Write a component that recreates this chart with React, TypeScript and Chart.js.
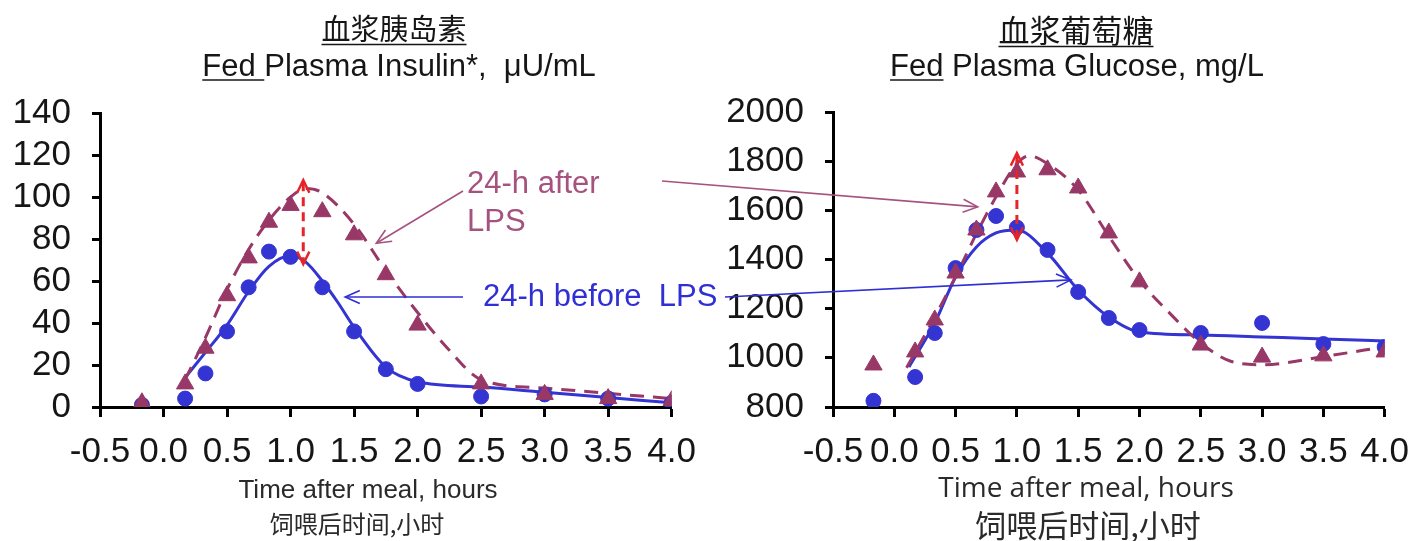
import { useEffect, useRef } from "react";
import { Chart, registerables } from "chart.js";

Chart.register(...registerables);

// Sampling times, hours after the meal
const sampleHours = [-0.17, 0.17, 0.33, 0.5, 0.67, 0.83, 1.0, 1.25, 1.5, 1.75, 2.0, 2.5, 3.0, 3.5, 4.0];

// Fed plasma insulin, µU/mL
const insulinBefore = [1, 4, 16, 36, 57, 74, 71.5, 57, 36, 18, 11, 5, 6, 4, 2];
const insulinAfter = [2, 11, 28, 53, 71, 88, 96, 93, 82, 63, 39, 11, 6, 4, 3];

// Fitted insulin curves
const insulinBeforeFitHours = [0.17, 0.33, 0.5, 0.67, 0.83, 1.0, 1.12, 1.25, 1.37, 1.5, 1.75, 2.0, 2.5, 3.0, 3.5, 4.0];
const insulinBeforeFit = [14, 26, 39, 55, 67, 72, 69, 60, 50, 38, 19, 12, 9.5, 7, 4.5, 2];
const insulinAfterFitHours = [0.17, 0.33, 0.5, 0.67, 0.83, 1.0, 1.12, 1.25, 1.5, 1.75, 2.0, 2.25, 2.5, 3.0, 3.5, 4.0];
const insulinAfterFit = [13, 33, 56, 75, 89, 100, 104, 102, 87, 65, 45, 27, 13, 9, 6.5, 4];

// Fed plasma glucose, mg/L
const glucoseBefore = [825, 922, 1101, 1365, 1520, 1577, 1530, 1439, 1268, 1162, 1113, 1101, 1142, 1056, 1044];
const glucoseAfter = [971, 1024, 1154, 1345, 1520, 1675, 1756, 1765, 1691, 1508, 1309, 1052, 1003, 1008, 1024];

// Fitted glucose curves
const glucoseBeforeFitHours = [0.12, 0.33, 0.5, 0.67, 0.83, 1.0, 1.25, 1.5, 1.75, 2.0, 2.5, 3.0, 3.5, 4.0];
const glucoseBeforeFit = [963, 1142, 1329, 1451, 1508, 1520, 1426, 1276, 1166, 1105, 1093, 1085, 1077, 1068];
const glucoseAfterFitHours = [0.1, 0.33, 0.5, 0.67, 0.83, 1.0, 1.1, 1.25, 1.5, 1.75, 2.0, 2.25, 2.5, 2.75, 3.0, 3.5, 4.0];
const glucoseAfterFit = [960, 1166, 1330, 1505, 1655, 1790, 1822, 1790, 1683, 1495, 1315, 1180, 1060, 985, 972, 1005, 1045];

// Axis ranges: [min, max, step]
const hourAxis = [-0.5, 4.0, 0.5];
const insulinAxis = [0, 140, 20];
const glucoseAxis = [800, 2000, 200];

// Post-LPS rise at the peak: [hour, lower value, upper value]
const insulinGap = [1.1, 68, 108];
const glucoseGap = [1.0, 1480, 1833];

// Callout arrow tips: [hour, value]
const afterTipInsulin = [1.675, 78];
const afterTipGlucose = [0.68, 1614];
const beforeTipInsulin = [1.43, 52.4];
const beforeTipGlucose = [1.44, 1317];

const BLUE = "#3434d2";
const PURPLE = "#983866";
const RED = "#e4262a";
const INK = "#161616";
const SANS = "'Liberation Sans', Arial, sans-serif";
const CJK = "'Noto Sans CJK SC', sans-serif";

const pairs = (xs: number[], ys: number[]) => xs.map((x, i) => ({ x, y: ys[i] }));

function arrowHead(ctx: CanvasRenderingContext2D, tx: number, ty: number, fx: number, fy: number, len: number, spread: number) {
  const a = Math.atan2(ty - fy, tx - fx);
  ctx.beginPath();
  ctx.moveTo(tx - len * Math.cos(a - spread), ty - len * Math.sin(a - spread));
  ctx.lineTo(tx, ty);
  ctx.lineTo(tx - len * Math.cos(a + spread), ty - len * Math.sin(a + spread));
  ctx.stroke();
}

type Decor = {
  zh: string; zhX: number; zhY: number; zhSize: number;
  en: string; enUnder: string; enX: number; enY: number;
  axisEn: string; axisFont: string; axisX: number; axisY: number;
  axisZh: string; axisZhX: number; axisZhY: number; axisZhSize: number;
  gap: number[];
};

function decorPlugin(d: Decor) {
  return {
    id: "decor",
    afterDatasetsDraw(chart: any) {
      const ctx: CanvasRenderingContext2D = chart.ctx;
      const { x, y } = chart.scales;
      ctx.save();
      // peak rise double arrow
      const gx = x.getPixelForValue(d.gap[0]);
      const gLow = y.getPixelForValue(d.gap[1]);
      const gHigh = y.getPixelForValue(d.gap[2]);
      ctx.strokeStyle = RED;
      ctx.lineWidth = 3;
      ctx.setLineDash([9, 6]);
      ctx.beginPath();
      ctx.moveTo(gx, gHigh + 2);
      ctx.lineTo(gx, gLow - 2);
      ctx.stroke();
      ctx.setLineDash([]);
      ctx.lineWidth = 2.5;
      arrowHead(ctx, gx, gHigh, gx, gLow, 14, 0.45);
      arrowHead(ctx, gx, gLow, gx, gHigh, 14, 0.45);
      ctx.restore();
    },
    afterDraw(chart: any) {
      const ctx: CanvasRenderingContext2D = chart.ctx;
      ctx.save();
      ctx.fillStyle = INK;
      ctx.strokeStyle = INK;
      ctx.lineWidth = 1.6;
      // Chinese title, underlined
      ctx.font = `${d.zhSize}px ${CJK}`;
      ctx.textAlign = "center";
      ctx.textBaseline = "middle";
      ctx.fillText(d.zh, d.zhX, d.zhY);
      const zw = ctx.measureText(d.zh).width;
      ctx.beginPath();
      ctx.moveTo(d.zhX - zw / 2, d.zhY + d.zhSize * 0.5 + 1);
      ctx.lineTo(d.zhX + zw / 2, d.zhY + d.zhSize * 0.5 + 1);
      ctx.stroke();
      // English title with underlined first word
      ctx.font = `31px ${SANS}`;
      ctx.textAlign = "left";
      ctx.textBaseline = "alphabetic";
      const ew = ctx.measureText(d.en).width;
      const ex = d.enX - ew / 2;
      ctx.fillText(d.en, ex, d.enY);
      const uw = ctx.measureText(d.enUnder).width;
      ctx.beginPath();
      ctx.moveTo(ex, d.enY + 4);
      ctx.lineTo(ex + uw, d.enY + 4);
      ctx.stroke();
      // x axis titles
      ctx.fillStyle = "#2a2a2a";
      ctx.textAlign = "center";
      ctx.textBaseline = "middle";
      ctx.font = d.axisFont;
      ctx.fillText(d.axisEn, d.axisX, d.axisY);
      ctx.font = `${d.axisZhSize}px ${CJK}`;
      ctx.fillText(d.axisZh, d.axisZhX, d.axisZhY);
      ctx.restore();
    },
  };
}

function makeChart(
  canvas: HTMLCanvasElement,
  before: { x: number; y: number }[],
  after: { x: number; y: number }[],
  beforeFit: { x: number; y: number }[],
  afterFit: { x: number; y: number }[],
  yAxis: number[],
  yWidth: number,
  padTop: number,
  padRight: number,
  labelPad: number,
  decor: Decor
) {
  const tickFont = { family: SANS, size: 35 };
  return new Chart(canvas, {
    type: "line",
    data: {
      datasets: [
        {
          label: "24-h after LPS",
          data: after,
          showLine: false,
          pointStyle: "triangle",
          pointRadius: 10,
          pointBackgroundColor: PURPLE,
          pointBorderColor: PURPLE,
          pointBorderWidth: 1,
        },
        {
          label: "24-h before LPS",
          data: before,
          showLine: false,
          pointStyle: "circle",
          pointRadius: 7.5,
          pointBackgroundColor: BLUE,
          pointBorderColor: BLUE,
          pointBorderWidth: 1,
        },
        {
          label: "after fit",
          data: afterFit,
          borderColor: PURPLE,
          borderWidth: 3,
          borderDash: [14, 9],
          pointRadius: 0,
          cubicInterpolationMode: "monotone",
          fill: false,
        },
        {
          label: "before fit",
          data: beforeFit,
          borderColor: BLUE,
          borderWidth: 3,
          pointRadius: 0,
          cubicInterpolationMode: "monotone",
          fill: false,
        },
      ],
    },
    options: {
      responsive: false,
      animation: false,
      layout: { padding: { top: padTop, right: padRight, left: 0, bottom: 0 } },
      plugins: { legend: { display: false }, tooltip: { enabled: false }, title: { display: false } },
      scales: {
        x: {
          type: "linear",
          min: hourAxis[0],
          max: hourAxis[1],
          afterFit: (s: any) => {
            s.height = 134;
          },
          ticks: {
            stepSize: hourAxis[2],
            autoSkip: false,
            maxRotation: 0,
            padding: labelPad,
            color: INK,
            font: tickFont,
            callback: (v: any) => Number(v).toFixed(1),
          },
          grid: { drawOnChartArea: false, tickLength: 10, tickWidth: 3, tickColor: "#000" },
          border: { color: "#000", width: 3 },
        },
        y: {
          min: yAxis[0],
          max: yAxis[1],
          afterFit: (s: any) => {
            s.width = yWidth;
          },
          ticks: {
            stepSize: yAxis[2],
            autoSkip: false,
            padding: 21,
            color: INK,
            font: tickFont,
            callback: (v: any) => String(v),
          },
          grid: { drawOnChartArea: false, tickLength: 8, tickWidth: 3, tickColor: "#000" },
          border: { color: "#000", width: 3 },
        },
      },
    },
    plugins: [decorPlugin(decor)],
  } as any);
}

export default function App() {
  const leftRef = useRef<HTMLCanvasElement>(null);
  const rightRef = useRef<HTMLCanvasElement>(null);
  const overRef = useRef<HTMLCanvasElement>(null);

  useEffect(() => {
    const left = makeChart(
      leftRef.current!,
      pairs(sampleHours, insulinBefore),
      pairs(sampleHours, insulinAfter),
      pairs(insulinBeforeFitHours, insulinBeforeFit),
      pairs(insulinAfterFitHours, insulinAfterFit),
      insulinAxis,
      100,
      113,
      38,
      14,
      {
        zh: "血浆胰岛素", zhX: 394, zhY: 29, zhSize: 29,
        en: "Fed Plasma Insulin*,  μU/mL", enUnder: "Fed ", enX: 399, enY: 76,
        axisEn: "Time after meal, hours", axisFont: `26px ${SANS}`, axisX: 368, axisY: 491,
        axisZh: "饲喂后时间,小时", axisZhX: 357, axisZhY: 524, axisZhSize: 24,
        gap: insulinGap,
      }
    );
    const right = makeChart(
      rightRef.current!,
      pairs(sampleHours, glucoseBefore),
      pairs(sampleHours, glucoseAfter),
      pairs(glucoseBeforeFitHours, glucoseBeforeFit),
      pairs(glucoseAfterFitHours, glucoseAfterFit),
      glucoseAxis,
      123,
      112,
      28,
      14,
      {
        zh: "血浆葡萄糖", zhX: 366, zhY: 30, zhSize: 31,
        en: "Fed Plasma Glucose, mg/L", enUnder: "Fed", enX: 367, enY: 76,
        axisEn: "Time after meal, hours", axisFont: `28px 'Open Sans', 'Noto Sans', sans-serif`, axisX: 376, axisY: 489,
        axisZh: "饲喂后时间,小时", axisZhX: 378, axisZhY: 525, axisZhSize: 31,
        gap: glucoseGap,
      }
    );

    // Callouts that link both panels
    const over = overRef.current!;
    const ctx = over.getContext("2d")!;
    ctx.clearRect(0, 0, over.width, over.height);
    const at = (chart: any, dx: number, p: number[]) => [
      dx + chart.scales.x.getPixelForValue(p[0]),
      chart.scales.y.getPixelForValue(p[1]),
    ];
    const callout = (fx: number, fy: number, tip: number[], color: string) => {
      ctx.strokeStyle = color;
      ctx.lineWidth = 1.6;
      ctx.beginPath();
      ctx.moveTo(fx, fy);
      ctx.lineTo(tip[0], tip[1]);
      ctx.stroke();
      arrowHead(ctx, tip[0], tip[1], fx, fy, 16, 0.42);
    };
    const afterColor = "#a6527f";
    const beforeColor = "#2f2fd4";
    ctx.font = `31px ${SANS}`;
    ctx.textAlign = "left";
    ctx.textBaseline = "middle";
    ctx.fillStyle = afterColor;
    ctx.fillText("24-h after", 467, 184);
    ctx.fillText("LPS", 467, 222);
    ctx.fillStyle = beforeColor;
    ctx.fillText("24-h before  LPS", 483, 297);
    callout(463, 191, at(left, 0, afterTipInsulin), afterColor);
    callout(662, 181, at(right, 710, afterTipGlucose), afterColor);
    callout(463, 297, at(left, 0, beforeTipInsulin), beforeColor);
    callout(725, 297, at(right, 710, beforeTipGlucose), beforeColor);

    return () => {
      left.destroy();
      right.destroy();
    };
  }, []);

  return (
    <div style={{ position: "absolute", left: 0, top: 0, width: 1423, height: 541, background: "#fff", overflow: "hidden" }}>
      <canvas ref={leftRef} width={710} height={541} style={{ position: "absolute", left: 0, top: 0 }} />
      <canvas ref={rightRef} width={713} height={541} style={{ position: "absolute", left: 710, top: 0 }} />
      <canvas ref={overRef} width={1423} height={541} style={{ position: "absolute", left: 0, top: 0, pointerEvents: "none" }} />
    </div>
  );
}
